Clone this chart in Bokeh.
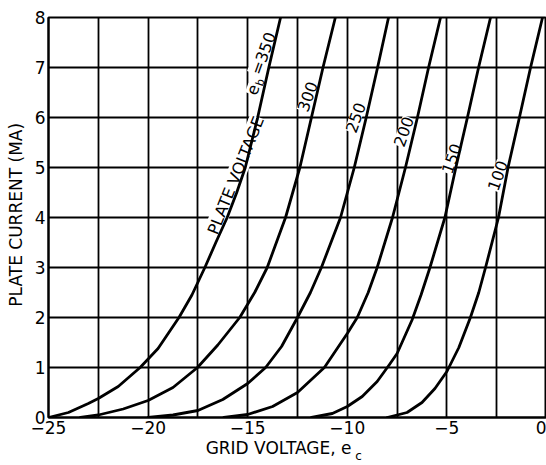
import math
from bokeh.plotting import figure
from bokeh.models import (Range1d, FixedTicker, ColumnDataSource, LabelSet,
                          LinearAxis, CustomJSTickFormatter)
from bokeh.embed import file_html
from bokeh.resources import INLINE
from bokeh.core.properties import value

# ---- data ----
x_tick_values = [-25, -20, -15, -10, -5, 0]
x_grid_values = [-25, -22.5, -20, -17.5, -15, -12.5, -10, -7.5, -5, -2.5, 0]
y_tick_values = [0, 1, 2, 3, 4, 5, 6, 7, 8]

ec_350 = [-25.0, -24.0, -23.0, -22.5, -21.5, -20.4, -19.5, -18.45, -17.8, -17.15, -16.6, -16.03, -15.55, -15.12, -14.5, -13.94, -13.35]
ib_350 = [0.0, 0.1, 0.28, 0.38, 0.62, 1.0, 1.38, 2.0, 2.45, 3.0, 3.5, 4.0, 4.5, 5.0, 6.0, 7.0, 8.0]

ec_300 = [-23.4, -22.5, -21.25, -20.0, -18.75, -17.52, -16.5, -15.4, -14.65, -14.02, -13.1, -12.38, -11.8, -11.22, -10.6]
ib_300 = [0.0, 0.05, 0.17, 0.34, 0.6, 1.0, 1.45, 2.0, 2.5, 3.0, 4.0, 5.0, 6.0, 7.0, 8.0]

ec_250 = [-20.0, -18.75, -17.5, -16.25, -15.0, -14.1, -13.3, -12.5, -11.85, -11.3, -10.34, -9.65, -9.05, -8.48, -7.93]
ib_250 = [0.0, 0.05, 0.14, 0.36, 0.68, 1.0, 1.42, 2.0, 2.5, 3.0, 4.0, 5.0, 6.0, 7.0, 8.0]

ec_200 = [-16.2, -15.0, -13.75, -12.5, -11.15, -10.0, -9.5, -8.95, -8.5, -7.73, -7.08, -6.48, -5.92, -5.32]
ib_200 = [0.0, 0.06, 0.22, 0.5, 1.0, 1.68, 2.0, 2.5, 3.0, 4.0, 5.0, 6.0, 7.0, 8.0]

ec_150 = [-11.8, -10.75, -10.0, -9.25, -8.5, -7.9, -7.5, -6.75, -6.3, -5.85, -5.1, -4.55, -3.97, -3.41, -2.81]
ib_150 = [0.0, 0.08, 0.22, 0.42, 0.72, 1.05, 1.28, 1.95, 2.45, 3.0, 4.0, 5.0, 6.0, 7.0, 8.0]

ec_100 = [-8.0, -7.0, -6.25, -5.6, -5.0, -4.4, -3.82, -3.4, -3.06, -2.41, -1.93, -1.36, -0.8, -0.2]
ib_100 = [0.0, 0.1, 0.3, 0.58, 0.92, 1.4, 2.0, 2.5, 3.0, 4.0, 5.0, 6.0, 7.0, 8.0]

curve_labels = ["300", "250", "200", "150", "100"]

# ---- label placement (layout) ----
curve_label_x = [-12.0, -9.59, -7.18, -4.77, -2.46]
curve_label_y = [6.42, 6.0, 5.72, 5.18, 4.84]
subscript_x = -9.43

FONT = "DejaVu Sans"
NB = "\u00a0"

p = figure(width=546, height=465,
           x_range=Range1d(-25, 0), y_range=Range1d(0, 8),
           output_backend="svg", toolbar_location=None,
           min_border_left=48, min_border_right=0,
           min_border_top=17, min_border_bottom=47)

p.background_fill_color = "white"
p.border_fill_color = "white"
p.outline_line_color = "black"
p.outline_line_width = 2

xax = p.below[0]
yax = p.left[0]
for ax in (xax, yax):
    ax.major_tick_line_color = None
    ax.minor_tick_line_color = None
    ax.major_tick_out = 0
    ax.major_tick_in = 0
    ax.axis_line_color = "black"
    ax.axis_line_width = 2
    ax.major_label_text_font = FONT
    ax.major_label_text_font_size = "17px"
    ax.major_label_text_color = "black"
    ax.axis_label_text_font = FONT
    ax.axis_label_text_font_style = "normal"
    ax.axis_label_text_color = "black"

xax.ticker = FixedTicker(ticks=x_tick_values)
yax.ticker = FixedTicker(ticks=y_tick_values)
xax.major_label_standoff = 3
yax.major_label_standoff = 3

xax.axis_label = "GRID VOLTAGE, e" + NB * 7
xax.axis_label_text_font_size = "17px"
xax.axis_label_standoff = 1
yax.axis_label = NB + "PLATE CURRENT (MA)"
yax.axis_label_text_font_size = "17px"
yax.axis_label_standoff = 6

# subscript "c" of the x-axis title, drawn as the tick label of a bare second axis
sub_ax = LinearAxis(ticker=FixedTicker(ticks=[subscript_x]),
                    formatter=CustomJSTickFormatter(code="return 'c'"),
                    axis_line_color=None, major_tick_line_color=None,
                    minor_tick_line_color=None, major_tick_out=0, major_tick_in=0,
                    major_label_standoff=-12,
                    major_label_text_font=FONT, major_label_text_font_size="12px",
                    major_label_text_color="black")
p.add_layout(sub_ax, "below")

p.xgrid.ticker = FixedTicker(ticks=x_grid_values)
p.ygrid.ticker = FixedTicker(ticks=y_tick_values)
for g in (p.xgrid[0], p.ygrid[0]):
    g.grid_line_color = "black"
    g.grid_line_width = 1.8
    g.grid_line_alpha = 1.0

# curve labels with white background (break the grid like the original)
ang = math.radians(70)
lab_src = ColumnDataSource(dict(x=curve_label_x, y=curve_label_y, text=curve_labels,
                                angle=[ang] * len(curve_labels)))
p.add_layout(LabelSet(x="x", y="y", text="text", angle="angle", source=lab_src,
                      text_align="center", text_baseline="middle",
                      text_font=value(FONT), text_font_size=value("16px"),
                      text_color="black", background_fill_color="white",
                      level="underlay"))

pv_src = ColumnDataSource(dict(
    x=[-15.6, -14.76, -14.36, -14.21],
    y=[4.84, 6.56, 6.70, 7.28],
    text=["PLATE VOLTAGE", "e", "b", "=350"],
    size=["16px", "16px", "11px", "16px"],
    angle=[math.radians(68), ang, ang, ang]))
p.add_layout(LabelSet(x="x", y="y", text="text", angle="angle", source=pv_src,
                      text_align="center", text_baseline="middle",
                      text_font=value(FONT), text_font_size="size",
                      text_color="black", background_fill_color="white",
                      level="underlay"))

# curves
for xs, ys in [(ec_350, ib_350), (ec_300, ib_300), (ec_250, ib_250),
               (ec_200, ib_200), (ec_150, ib_150), (ec_100, ib_100)]:
    p.line(xs, ys, line_color="black", line_width=2.8, line_join="round", line_cap="round")

open("out.html", "w").write(file_html(p, INLINE))
